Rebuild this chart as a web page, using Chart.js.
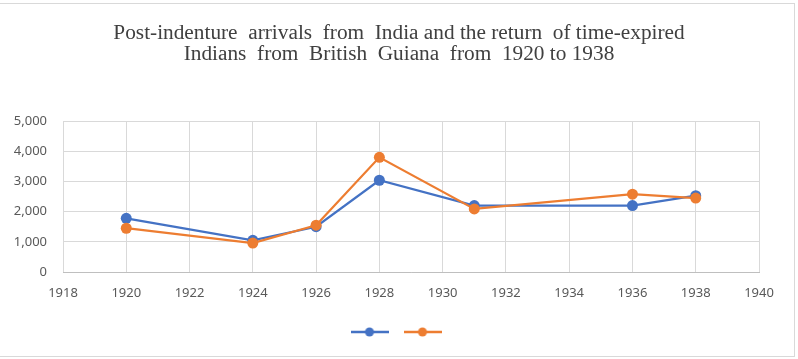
<!DOCTYPE html>
<html>
<head>
<meta charset="utf-8">
<script src="https://cdn.jsdelivr.net/npm/chart.js@4/dist/chart.umd.min.js"></script>
<style>
html,body{margin:0;padding:0;background:#fff;}
#wrap{position:relative;width:798px;height:359px;overflow:hidden;}
#frame{position:absolute;left:-1px;top:3px;width:794px;height:352px;border:1px solid #d9d9d9;pointer-events:none;}
canvas{display:block;}
</style>
</head>
<body>
<div id="wrap">
<canvas id="c" width="798" height="359"></canvas>
<div id="frame"></div>
</div>
<script>
// Data
const years = [1920, 1924, 1926, 1928, 1931, 1936, 1938];
const arrivals = [1780, 1050, 1500, 3040, 2200, 2200, 2530];
const returns = [1450, 960, 1550, 3800, 2090, 2580, 2450];
const titleLines = ['Post-indenture  arrivals  from  India and the return  of time-expired', 'Indians  from  British  Guiana  from  1920 to 1938'];
const xMin = 1918, xMax = 1940, xStep = 2;
const yMin = 0, yMax = 5000, yStep = 1000;

const blue = '#4472C4', orange = '#ED7D31';

function icon(color){
  const cv = document.createElement('canvas');
  cv.width = 38; cv.height = 12;
  const g = cv.getContext('2d');
  g.strokeStyle = color; g.lineWidth = 2.5;
  g.beginPath(); g.moveTo(0,6); g.lineTo(38,6); g.stroke();
  g.fillStyle = color;
  g.beginPath(); g.arc(19,6,4.5,0,Math.PI*2); g.fill();
  return cv;
}
const icons = [icon(blue), icon(orange)];

const toPts = (xs, ys) => xs.map((x,i)=>({x:x, y:ys[i]}));

new Chart(document.getElementById('c'), {
  type: 'line',
  data: {
    datasets: [
      {label:'', data: toPts(years, arrivals), borderColor: blue, backgroundColor: blue, borderWidth: 2.25, pointRadius: 5.5, pointBorderWidth: 0, pointHoverRadius:5.5, tension: 0, order: 1},
      {label:'', data: toPts(years, returns), borderColor: orange, backgroundColor: orange, borderWidth: 2.25, pointRadius: 5.5, pointBorderWidth: 0, pointHoverRadius:5.5, tension: 0, order: 0}
    ]
  },
  options: {
    responsive: false,
    animation: false,
    layout: {padding: {left: 0, right: 0, top: 0, bottom: 11}},
    plugins: {
      tooltip: {enabled: false},
      title: {
        display: true,
        text: titleLines,
        color: '#404040',
        font: {family: '"Liberation Serif", "DejaVu Serif", serif', size: 21.3, weight: 'normal', lineHeight: 1.0},
        padding: {top: 22.5, bottom: 56}
      },
      legend: {
        display: true,
        position: 'bottom',
        labels: {
          usePointStyle: true,
          pointStyleWidth: 38,
          boxHeight: 12,
          padding: 9,
          font: {size: 12},
          generateLabels: (chart) => {
            const items = Chart.defaults.plugins.legend.labels.generateLabels(chart);
            items.forEach((it, i) => { it.pointStyle = icons[i]; it.text = ''; });
            return items;
          }
        }
      }
    },
    scales: {
      x: {
        type: 'linear',
        min: xMin, max: xMax,
        ticks: {stepSize: xStep, color: '#595959', font: {family: '"Noto Sans", sans-serif', size: 13}, padding: 13, callback: v => String(v)},
        grid: {color: '#d9d9d9', drawTicks: false},
        border: {color: '#bfbfbf'},
        afterFit: (a) => { a.height = 45; }
      },
      y: {
        min: yMin, max: yMax,
        ticks: {stepSize: yStep, color: '#595959', font: {family: '"Noto Sans", sans-serif', size: 13}, padding: 16},
        grid: {color: '#d9d9d9', drawTicks: false},
        border: {display: false},
        afterFit: (a) => { a.width = 63; }
      },
      yRight: {
        position: 'right',
        min: yMin, max: yMax,
        ticks: {display: false},
        grid: {display: false, drawOnChartArea: false},
        border: {display: false},
        afterFit: (a) => { a.width = 39; }
      }
    }
  }
});
</script>
</body>
</html>
